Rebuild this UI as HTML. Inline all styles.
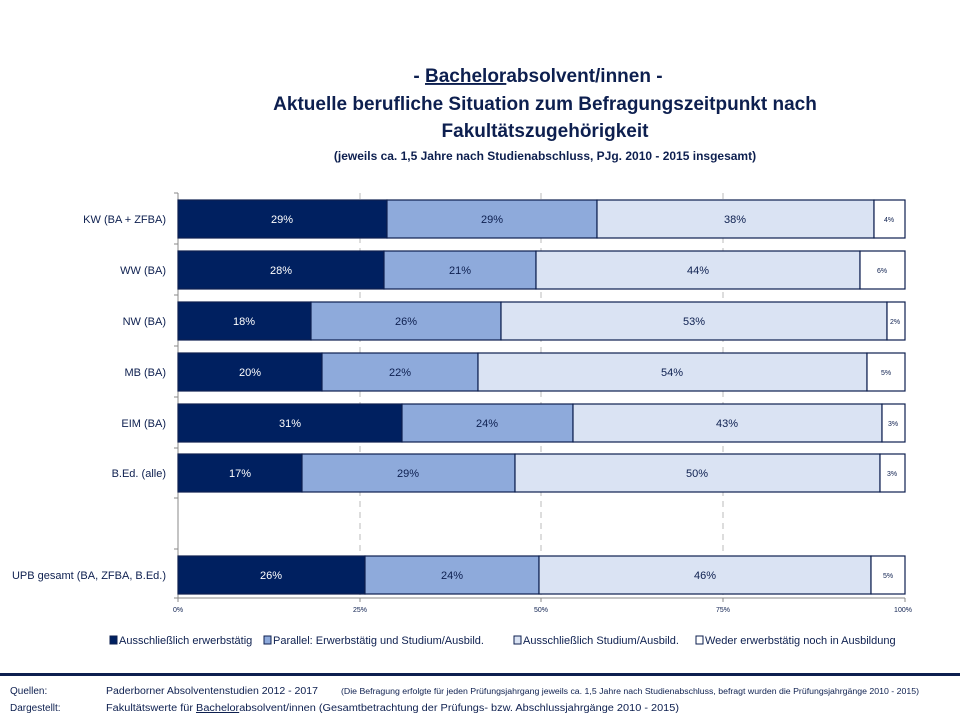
<!DOCTYPE html><html><head><style>body{margin:0;background:#fff;font-family:"Liberation Sans",sans-serif}</style></head><body>
<svg width="960" height="720" xmlns="http://www.w3.org/2000/svg" font-family="Liberation Sans, sans-serif">
<g fill="#0d1f4f" font-weight="bold" text-anchor="middle">
<text x="538" y="82" font-size="19">- <tspan text-decoration="underline">Bachelor</tspan>absolvent/innen -</text>
<text x="545" y="110" font-size="19">Aktuelle berufliche Situation zum Befragungszeitpunkt nach</text>
<text x="545" y="137" font-size="19">Fakultätszugehörigkeit</text>
<text x="545" y="160" font-size="12">(jeweils ca. 1,5 Jahre nach Studienabschluss, PJg. 2010 - 2015 insgesamt)</text>
</g>
<g stroke="#bbb" stroke-dasharray="6,5"><line x1="360" y1="193" x2="360" y2="598"/><line x1="541" y1="193" x2="541" y2="598"/><line x1="723" y1="193" x2="723" y2="598"/></g>
<g stroke="#888"><line x1="178" y1="193" x2="178" y2="598"/>
<line x1="174" y1="193" x2="178" y2="193"/><line x1="174" y1="244" x2="178" y2="244"/><line x1="174" y1="295" x2="178" y2="295"/><line x1="174" y1="346" x2="178" y2="346"/><line x1="174" y1="397" x2="178" y2="397"/><line x1="174" y1="448" x2="178" y2="448"/><line x1="174" y1="498" x2="178" y2="498"/><line x1="174" y1="549" x2="178" y2="549"/><line x1="174" y1="598" x2="178" y2="598"/>
<line x1="178" y1="598" x2="905" y2="598"/>
<line x1="178" y1="598" x2="178" y2="602"/><line x1="360" y1="598" x2="360" y2="602"/><line x1="541" y1="598" x2="541" y2="602"/><line x1="723" y1="598" x2="723" y2="602"/><line x1="905" y1="598" x2="905" y2="602"/></g>
<g font-size="7" fill="#0d1f4f" text-anchor="middle"><text x="178" y="612">0%</text><text x="360" y="612">25%</text><text x="541" y="612">50%</text><text x="723" y="612">75%</text><text x="903" y="612">100%</text></g>

<g stroke="#0d1f4f" stroke-width="1.2">
<rect x="178" y="200" width="209" height="38" fill="#002060"/><rect x="387" y="200" width="210" height="38" fill="#8eaadb"/><rect x="597" y="200" width="277" height="38" fill="#dae3f3"/><rect x="874" y="200" width="31" height="38" fill="#fff"/>
<rect x="178" y="251" width="206" height="38" fill="#002060"/><rect x="384" y="251" width="152" height="38" fill="#8eaadb"/><rect x="536" y="251" width="324" height="38" fill="#dae3f3"/><rect x="860" y="251" width="45" height="38" fill="#fff"/>
<rect x="178" y="302" width="133" height="38" fill="#002060"/><rect x="311" y="302" width="190" height="38" fill="#8eaadb"/><rect x="501" y="302" width="386" height="38" fill="#dae3f3"/><rect x="887" y="302" width="18" height="38" fill="#fff"/>
<rect x="178" y="353" width="144" height="38" fill="#002060"/><rect x="322" y="353" width="156" height="38" fill="#8eaadb"/><rect x="478" y="353" width="389" height="38" fill="#dae3f3"/><rect x="867" y="353" width="38" height="38" fill="#fff"/>
<rect x="178" y="404" width="224" height="38" fill="#002060"/><rect x="402" y="404" width="171" height="38" fill="#8eaadb"/><rect x="573" y="404" width="309" height="38" fill="#dae3f3"/><rect x="882" y="404" width="23" height="38" fill="#fff"/>
<rect x="178" y="454" width="124" height="38" fill="#002060"/><rect x="302" y="454" width="213" height="38" fill="#8eaadb"/><rect x="515" y="454" width="365" height="38" fill="#dae3f3"/><rect x="880" y="454" width="25" height="38" fill="#fff"/>
<rect x="178" y="556" width="187" height="38" fill="#002060"/><rect x="365" y="556" width="174" height="38" fill="#8eaadb"/><rect x="539" y="556" width="332" height="38" fill="#dae3f3"/><rect x="871" y="556" width="34" height="38" fill="#fff"/>
</g>

<g font-size="11" fill="#0d1f4f" text-anchor="end">
<text x="166" y="223">KW (BA + ZFBA)</text><text x="166" y="274">WW (BA)</text><text x="166" y="325">NW (BA)</text><text x="166" y="376">MB (BA)</text><text x="166" y="427">EIM (BA)</text><text x="166" y="477">B.Ed. (alle)</text><text x="166" y="579">UPB gesamt (BA, ZFBA, B.Ed.)</text>
</g>
<g font-size="11" text-anchor="middle" fill="#fff">
<text x="282" y="223">29%</text><text x="281" y="274">28%</text><text x="244" y="325">18%</text><text x="250" y="376">20%</text><text x="290" y="427">31%</text><text x="240" y="477">17%</text><text x="271" y="579">26%</text>
</g>
<g font-size="11" text-anchor="middle" fill="#0d1f4f">
<text x="492" y="223">29%</text><text x="735" y="223">38%</text>
<text x="460" y="274">21%</text><text x="698" y="274">44%</text>
<text x="406" y="325">26%</text><text x="694" y="325">53%</text>
<text x="400" y="376">22%</text><text x="672" y="376">54%</text>
<text x="487" y="427">24%</text><text x="727" y="427">43%</text>
<text x="408" y="477">29%</text><text x="697" y="477">50%</text>
<text x="452" y="579">24%</text><text x="705" y="579">46%</text>
</g>
<g font-size="7" text-anchor="middle" fill="#0d1f4f">
<text x="889" y="222">4%</text><text x="882" y="273">6%</text><text x="895" y="324">2%</text><text x="886" y="375">5%</text><text x="893" y="426">3%</text><text x="892" y="476">3%</text><text x="888" y="578">5%</text>
</g>

<g font-size="11" fill="#0d1f4f">
<rect x="110" y="636" width="7" height="8" fill="#002060" stroke="#0d1f4f"/><text x="119" y="644">Ausschließlich erwerbstätig</text>
<rect x="264" y="636" width="7" height="8" fill="#8eaadb" stroke="#0d1f4f"/><text x="273" y="644">Parallel: Erwerbstätig und Studium/Ausbild.</text>
<rect x="514" y="636" width="7" height="8" fill="#dae3f3" stroke="#0d1f4f"/><text x="523" y="644">Ausschließlich Studium/Ausbild.</text>
<rect x="696" y="636" width="7" height="8" fill="#fff" stroke="#0d1f4f"/><text x="705" y="644">Weder erwerbstätig noch in Ausbildung</text>
</g>
<rect x="0" y="673" width="960" height="3" fill="#0d1f4f"/>
<g font-size="10" fill="#0d1f4f">
<text x="10" y="694">Quellen:</text><text x="106" y="694" textLength="212" lengthAdjust="spacingAndGlyphs">Paderborner Absolventenstudien  2012 - 2017</text><text x="341" y="694" font-size="8" textLength="578" lengthAdjust="spacingAndGlyphs">(Die Befragung erfolgte für jeden Prüfungsjahrgang jeweils ca. 1,5 Jahre nach Studienabschluss, befragt wurden die Prüfungsjahrgänge 2010 - 2015)</text>
<text x="10" y="711">Dargestellt:</text><text x="106" y="711" textLength="573" lengthAdjust="spacingAndGlyphs">Fakultätswerte  für <tspan text-decoration="underline">Bachelor</tspan>absolvent/innen   (Gesamtbetrachtung  der Prüfungs- bzw. Abschlussjahrgänge  2010 - 2015)</text>
</g>
</svg></body></html>
